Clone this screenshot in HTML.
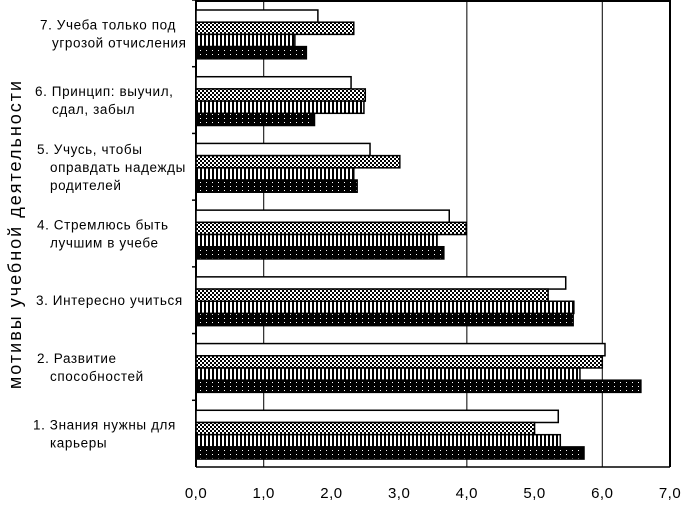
<!DOCTYPE html>
<html><head><meta charset="utf-8"><style>
html,body{margin:0;padding:0;background:#fff;}
svg{display:block;font-family:"Liberation Sans",sans-serif;}
</style></head><body>
<svg id="chart" width="682" height="505" viewBox="0 0 682 505" xmlns="http://www.w3.org/2000/svg">
<defs>
<pattern id="pCheck" width="4" height="4" patternUnits="userSpaceOnUse"><rect width="4" height="4" fill="#fff"/><rect width="2" height="2" fill="#000"/><rect x="2" y="2" width="2" height="2" fill="#000"/></pattern>
<pattern id="pStripe" width="4" height="4" patternUnits="userSpaceOnUse"><rect width="4" height="4" fill="#fff"/><rect width="2" height="4" fill="#000"/></pattern>
<pattern id="pDark" width="6" height="4" patternUnits="userSpaceOnUse"><rect width="6" height="4" fill="#000"/><rect x="2" y="2" width="1" height="1" fill="#fff"/></pattern>
</defs>
<g id="plot"></g>
</svg>
<script>
const categories = ["1. Знания нужны для карьеры","2. Развитие способностей","3. Интересно учиться","4. Стремлюсь быть лучшим в учебе","5. Учусь, чтобы оправдать надежды родителей","6. Принцип: выучил, сдал, забыл","7. Учеба только под угрозой отчисления"];
const seriesWhite  = [5.35, 6.04, 5.46, 3.74, 2.57, 2.29, 1.80];
const seriesCheck  = [5.00, 6.00, 5.20, 3.99, 3.01, 2.50, 2.33];
const seriesStripe = [5.38, 5.67, 5.58, 3.56, 2.33, 2.48, 1.46];
const seriesDark   = [5.73, 6.57, 5.57, 3.66, 2.38, 1.75, 1.63];
const xTicks = ["0,0","1,0","2,0","3,0","4,0","5,0","6,0","7,0"];
const labelLines = [["1. Знания нужны для","карьеры"],["2. Развитие","способностей"],["3. Интересно учиться"],["4. Стремлюсь быть","лучшим в учебе"],["5. Учусь, чтобы","оправдать надежды","родителей"],["6. Принцип: выучил,","сдал, забыл"],["7. Учеба только под","угрозой отчисления"]];
const labelX = [[33,50],[37,50],[36],[37,50],[37,50,50],[35,52],[40,52]];

const NS="http://www.w3.org/2000/svg";
const g=document.getElementById('plot');
const X0=196,X1=670,Y0=0,Y1=467,XMAX=7;
const xs=v=>X0+(X1-X0)*v/XMAX;
const catH=(Y1-Y0)/categories.length;
const catTop=i=>Y1-(i+1)*catH;
function el(t,a){const e=document.createElementNS(NS,t);for(const k in a)e.setAttribute(k,a[k]);g.appendChild(e);return e;}

[1,4,6].forEach(v=>{
  const l=el('line',{x1:xs(v),x2:xs(v),y1:Y0,y2:Y1,stroke:'#000','stroke-width':1});
  
  
});
const fr=el('path',{d:`M${X0} ${Y1}V${Y0+1}H${X1}V${Y1}`,fill:'none',stroke:'#000','stroke-width':2});


const xa=el('line',{x1:X0,x2:X1,y1:Y1,y2:Y1,stroke:'#000','stroke-width':1.5});



const series=[[seriesWhite,'#fff'],[seriesCheck,'url(#pCheck)'],[seriesStripe,'url(#pStripe)'],[seriesDark,'url(#pDark)']];
const names=['white','check','stripe','dark'];
const barH=12.2;
categories.forEach((c,i)=>{
  const top=catTop(i);
  const tk=el('line',{x1:X0-4,x2:X0,y1:top,y2:top,stroke:'#000','stroke-width':1.5});
  
  
  series.forEach((s,j)=>{
    const y=top+10+j*barH;
    const r=el('rect',{x:X0,y:y,width:xs(s[0][i])-X0,height:barH,fill:s[1],stroke:'#000','stroke-width':1.5});
    
    
  });
  const lines=labelLines[i];
  const cy=top+catH/2;
  lines.forEach((ln,k)=>{
    const y=cy+(k-(lines.length-1)/2)*18+5;
    const t=el('text',{x:labelX[i][k],y:y,'font-size':13.5,'letter-spacing':0.6,fill:'#000'});
    t.textContent=ln;
    
    
  });
});
xTicks.forEach((s,i)=>{
  const t=el('text',{x:xs(i),y:498,'font-size':15,'letter-spacing':0.5,'text-anchor':'middle',fill:'#000'});
  t.textContent=s;
  
  
});
const yt=el('text',{x:0,y:0,'font-size':18,'letter-spacing':2,'text-anchor':'middle',fill:'#000',transform:'translate(21,234) rotate(-90)'});
yt.textContent='мотивы учебной деятельности';


</script>
</body></html>
